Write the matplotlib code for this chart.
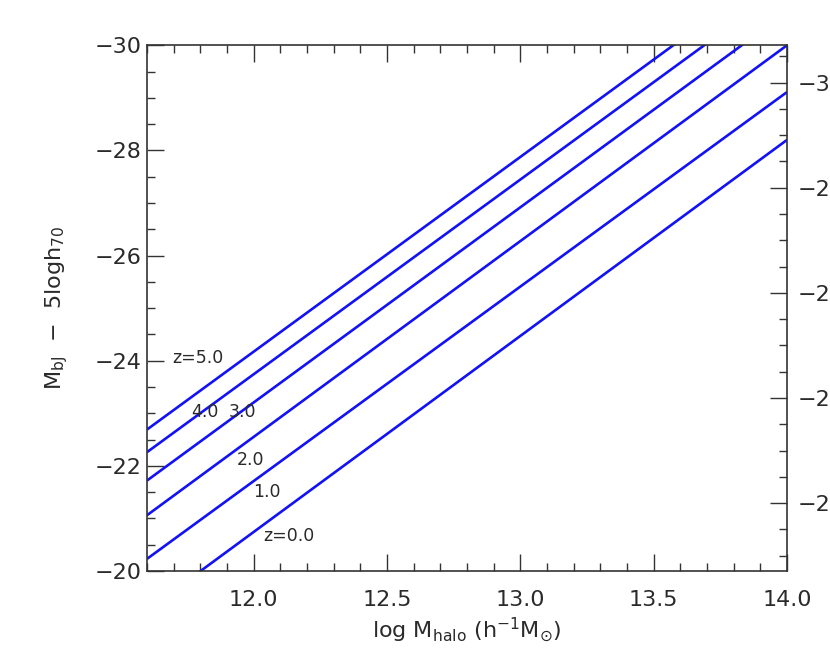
import matplotlib
matplotlib.use('Agg')
import matplotlib.pyplot as plt
import matplotlib.ticker as ticker
import numpy as np

# redshifts and magnitude of each relation at the two ends of the mass range
redshifts = ['0.0', '1.0', '2.0', '3.0', '4.0', '5.0']
logm_ends = [11.6, 14.0]
mag_at_lo = [-19.25, -20.23, -21.06, -21.72, -22.26, -22.69]
mag_at_hi = [-28.20, -29.11, -30.00, -30.63, -31.15, -31.58]

# label text and anchor (left edge, vertical centre)
label_text = ['z=0.0', '1.0', '2.0', '3.0', '4.0', 'z=5.0']
label_x = [12.035, 11.997, 11.936, 11.905, 11.767, 11.696]
label_y = [-20.67, -21.51, -22.12, -23.02, -23.02, -24.06]

h_offset = 0.71  # right axis shift

plt.rcParams['font.family'] = ['DejaVu Sans']
plt.rcParams['mathtext.default'] = 'regular'

fig = plt.figure(figsize=(8.3, 6.65), dpi=100)
ax = fig.add_axes([0.1771, 0.1414, 0.9482 - 0.1771, 0.9319 - 0.1414])

edge = '#333333'
txt = '#2a2a2a'
for lo, hi in zip(mag_at_lo, mag_at_hi):
    ax.plot(logm_ends, [lo, hi], color='#1212f5', lw=1.9, solid_capstyle='butt')

for t, x, y in zip(label_text, label_x, label_y):
    ax.text(x, y, t, ha='left', va='center', fontsize=12.5, color=txt)

ax.set_xlim(11.6, 14.0)
ax.set_ylim(-20, -30)

minus_fmt = ticker.FuncFormatter(lambda v, p: '\u2212%d' % abs(v))

ax.xaxis.set_major_locator(ticker.MultipleLocator(0.5))
ax.xaxis.set_minor_locator(ticker.MultipleLocator(0.1))
ax.xaxis.set_major_formatter(ticker.FormatStrFormatter('%.1f'))
ax.yaxis.set_major_locator(ticker.MultipleLocator(2))
ax.yaxis.set_minor_locator(ticker.MultipleLocator(0.5))
ax.yaxis.set_major_formatter(minus_fmt)

ax.tick_params(which='both', direction='in', top=True, right=False, color=edge,
               labelsize=16, labelcolor=txt)
ax.tick_params(which='major', length=12, width=1)
ax.tick_params(which='minor', length=6, width=1)
ax.tick_params(axis='x', pad=14)
ax.tick_params(axis='y', pad=4)
for s in ax.spines.values():
    s.set_color(edge)
    s.set_linewidth(1.2)

ax2 = ax.twinx()
ax2.set_ylim(-20 - h_offset, -30 - h_offset)
ax2.yaxis.set_major_locator(ticker.MultipleLocator(2))
ax2.yaxis.set_minor_locator(ticker.MultipleLocator(0.5))
ax2.yaxis.set_major_formatter(minus_fmt)
ax2.tick_params(which='both', direction='in', color=edge, labelsize=16,
                labelcolor=txt, pad=8)
ax2.tick_params(which='major', length=12, width=1)
ax2.tick_params(which='minor', length=6, width=1)
for s in ax2.spines.values():
    s.set_visible(False)

ax.set_xlabel('log M$_{halo}$ (h$^{-1}$M$_{\\odot}$)', fontsize=16, color=txt, va='center')
ax.set_ylabel('M$_{bJ}$  \u2212  5logh$_{70}$', fontsize=16, color=txt, va='center')
ax.xaxis.set_label_coords(0.5, -0.112)
ax.yaxis.set_label_coords(-0.141, 0.5)

fig.savefig('out.png', dpi=100)
